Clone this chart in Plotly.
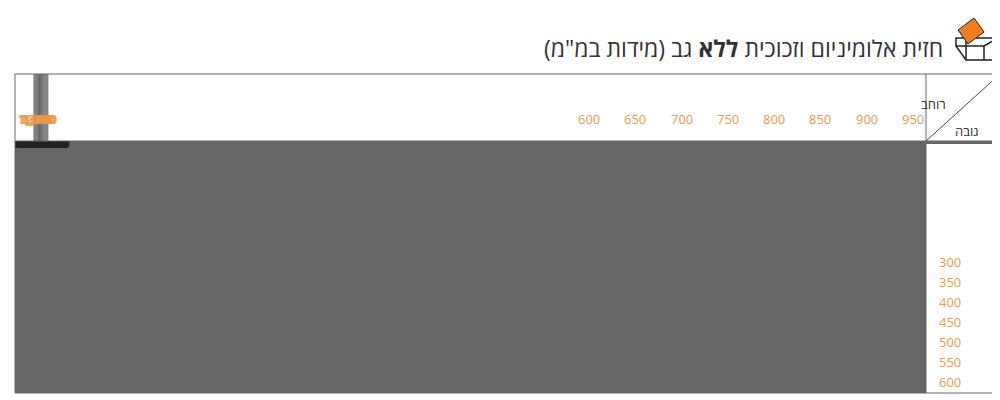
import plotly.graph_objects as go

widths = ['1,800', '1,700', '1,600', '1,500', '1,400', '1,300', '1,200', '1,100',
          '1,000', '950', '900', '850', '800', '750', '700', '650', '600']
heights = ['300', '350', '400', '450', '500', '550', '600']

# one list per height row, left to right (1,800 ... 600)
row_300 = ['KT2500'] * 8 + ['KT2300'] * 9
row_350 = ['KT2700'] * 3 + ['KT2500'] * 10 + ['KT2300'] * 4
row_400 = ['KT2700'] * 7 + ['KT2500'] * 9 + ['KT2300'] * 1
row_450 = ['KT2700'] * 10 + ['KT2500'] * 7
row_500 = ['KT2900'] * 2 + ['KT2700'] * 13 + ['KT2500'] * 2
row_550 = ['KT2900'] * 5 + ['KT2700'] * 11 + ['KT2500'] * 1
row_600 = ['KT2900'] * 7 + ['KT2700'] * 10
rows = [row_300, row_350, row_400, row_450, row_500, row_550, row_600]

models = ['KT2300', 'KT2500', 'KT2700', 'KT2900']
model_colors = ['#fbd89c', '#dddddd', '#f7c5de', '#cfe4c6']
orange = '#e79a4a'
line = '#666666'

z = [[models.index(v) for v in r] for r in rows]
scale = []
for i, c in enumerate(model_colors):
    scale += [[i / 4, c], [(i + 1) / 4, c]]

fig = go.Figure(go.Heatmap(
    z=z, x=widths, y=heights, text=rows, texttemplate='%{text}',
    textfont=dict(family='Open Sans', size=12.5, color='#222'),
    colorscale=scale, zmin=-0.5, zmax=3.5, showscale=False,
    xgap=1, ygap=1, hoverinfo='skip',
))

# plot area in pixels: x 7..918, y 133..385
L, R, T, B = 7, 918, 133, 385

def px_x(x):
    return (x - L) / (R - L)

def px_y(y):
    return (B - y) / (B - T)

shapes = []
# header row and right column borders
shapes.append(dict(type='rect', xref='paper', yref='paper', x0=px_x(L), x1=px_x(992),
                   y0=px_y(B), y1=px_y(66), line=dict(color=line, width=1)))
shapes.append(dict(type='line', xref='paper', yref='paper', x0=px_x(L), x1=px_x(992),
                   y0=px_y(T), y1=px_y(T), line=dict(color=line, width=1)))
shapes.append(dict(type='line', xref='paper', yref='paper', x0=1, x1=1,
                   y0=px_y(B), y1=px_y(66), line=dict(color=line, width=1)))
for i in range(1, len(widths)):
    shapes.append(dict(type='line', xref='x', yref='paper', x0=i - 0.5, x1=i - 0.5,
                       y0=1, y1=px_y(66), line=dict(color=line, width=1)))
for j in range(1, len(heights)):
    shapes.append(dict(type='line', xref='paper', yref='y', x0=1, x1=px_x(992),
                       y0=j - 0.5, y1=j - 0.5, line=dict(color=line, width=1)))
shapes.append(dict(type='line', xref='paper', yref='paper', x0=1, y0=1,
                   x1=px_x(992), y1=px_y(66), line=dict(color='#444', width=1)))
# icon
shapes.append(dict(type='path', xref='paper', yref='paper',
    path=f'M {px_x(948)},{px_y(38)} L {px_x(958)},{px_y(52)} L {px_x(990)},{px_y(52)} '
         f'L {px_x(990)},{px_y(30)} L {px_x(948)},{px_y(30)} Z M {px_x(948)},{px_y(38)} L {px_x(976)},{px_y(38)} '
         f'L {px_x(990)},{px_y(30)} M {px_x(976)},{px_y(38)} L {px_x(976)},{px_y(52)} '
         f'M {px_x(958)},{px_y(52)} L {px_x(958)},{px_y(30)}',
    line=dict(color='#222', width=1.5)))
shapes.append(dict(type='path', xref='paper', yref='paper',
    path=f'M {px_x(950)},{px_y(22)} L {px_x(966)},{px_y(10)} L {px_x(976)},{px_y(24)} '
         f'L {px_x(960)},{px_y(36)} Z',
    fillcolor='#ef7d22', line=dict(color='#222', width=1)))

annotations = [
    dict(text=w, xref='x', yref='paper', x=w, y=px_y(100), showarrow=False,
         font=dict(family='Open Sans', size=13, color=orange)) for w in widths
] + [
    dict(text=h, xref='paper', yref='y', x=px_x(955), y=h, showarrow=False,
         font=dict(family='Open Sans', size=13, color=orange)) for h in heights
] + [
    dict(text='חזית אלומיניום וזכוכית <b>ללא</b> גב (מידות במ"מ)', xref='paper', yref='paper',
         x=px_x(937), y=px_y(40), xanchor='right', yanchor='middle', showarrow=False,
         font=dict(family='Open Sans', size=23, color='#333')),
    dict(text='רוחב', xref='paper', yref='paper', x=px_x(940), y=px_y(85),
         showarrow=False, font=dict(family='Open Sans', size=13, color='#333')),
    dict(text='גובה', xref='paper', yref='paper', x=px_x(973), y=px_y(112),
         showarrow=False, font=dict(family='Open Sans', size=13, color='#333')),
]

fig.update_layout(width=1000, height=400, margin=dict(l=L, r=1000 - R, t=T, b=400 - B),
                  paper_bgcolor='white', plot_bgcolor=line,
                  xaxis=dict(visible=False), yaxis=dict(visible=False, autorange='reversed'),
                  shapes=shapes, annotations=annotations)
fig.write_html("out.html")
